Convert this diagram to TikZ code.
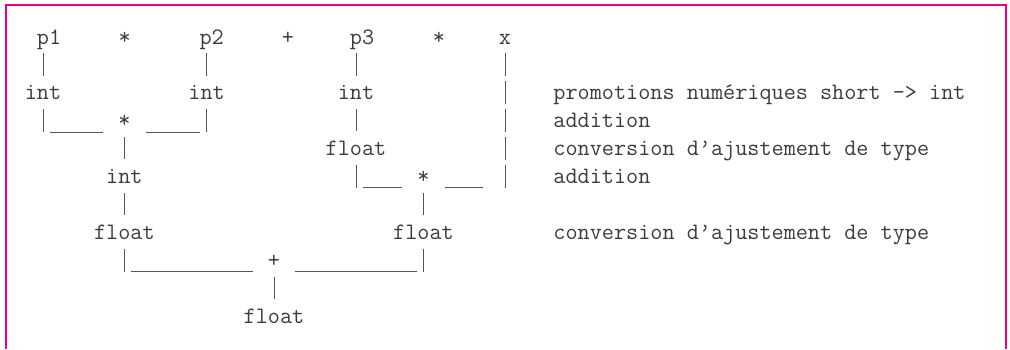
\documentclass[tikz,border=0pt]{standalone}
\usepackage{fontspec}
\usepackage{tikz}
\usetikzlibrary{calc}
\usepackage{xcolor}
\newfontfamily\asciifont{Latin Modern Mono}
\definecolor{framepink}{HTML}{EC008C}
\definecolor{ink}{HTML}{3C3C3C}
\definecolor{stroke}{HTML}{555555}
\newcommand{\ry}[1]{44+27.9*#1}

\begin{document}
\begin{tikzpicture}
    [x=0.5pt,y=-0.5pt,
    tok/.style={anchor=base,inner sep=0pt,text height=8pt,text depth=2pt,text=ink,
      font=\asciifont\fontsize{11.77pt}{14pt}\selectfont},
    note/.style={tok,anchor=base west},
    stem/.style={draw=stroke,line width=.5pt,dash pattern=on 11.5pt off 2.45pt,shorten <=2.45pt},
    bar/.style={stem,shorten >=3.95pt},
    rule/.style={draw=stroke,line width=.5pt,shorten <=3.5pt,shorten >=7.5pt}]
  \useasboundingbox (0,0) rectangle (1010,349);
  \draw[framepink,line width=1.1pt] (6,349) -- (6,5) -- (1006,5) -- (1006,349);

  % expression
  \node[tok] (p1) at (49,{\ry{0}}) {p1};
  \node[tok] (mulA) at (124.7,{\ry{0}}) {*};
  \node[tok] (p2) at (211.7,{\ry{0}}) {p2};
  \node[tok] (plus) at (288,{\ry{0}}) {+};
  \node[tok] (p3) at (362,{\ry{0}}) {p3};
  \node[tok] (mulB) at (439,{\ry{0}}) {*};
  \node[tok] (xv) at (505,{\ry{0}}) {x};

  % types
  \node[tok] (int1) at (43,{\ry{2}}) {int};
  \node[tok] (int2) at (206.6,{\ry{2}}) {int};
  \node[tok] (int3) at (356,{\ry{2}}) {int};
  \node[tok] (mul1) at (124.4,{\ry{3}}) {*};
  \node[tok] (float3) at (356,{\ry{4}}) {float};
  \node[tok] (int4) at (124.4,{\ry{5}}) {int};
  \node[tok] (mul2) at (423.5,{\ry{5}}) {*};
  \node[tok] (float4) at (124.4,{\ry{7}}) {float};
  \node[tok] (float5) at (423.5,{\ry{7}}) {float};
  \node[tok] (add) at (274,{\ry{8}}) {+};
  \node[tok] (float6) at (274,{\ry{10}}) {float};

  \node[note] (n1) at (553,{\ry{2}}) {promotions numériques short -> int};
  \node[note] (n2) at (553,{\ry{3}}) {addition};
  \node[note] (n3) at (553,{\ry{4}}) {conversion d’ajustement de type};
  \node[note] (n4) at (553,{\ry{5}}) {addition};
  \node[note] (n5) at (553,{\ry{7}}) {conversion d’ajustement de type};

  \coordinate (k1) at (int1 |- mul1.south);
  \coordinate (k2) at (int2 |- mul1.south);
  \coordinate (k3) at (float3 |- mul2.south);
  \coordinate (k4) at (xv |- mul2.south);
  \coordinate (k5) at (float4 |- add.south);
  \coordinate (k6) at (float5 |- add.south);

  \draw[bar] (p1.south -| int1) -- (int1);
  \draw[bar] (p2.south -| int2) -- (int2);
  \draw[bar] (p3.south -| int3) -- (int3);
  \draw[stem] (xv) -- (k4);
  \draw[stem] (int1) -- (k1);
  \draw[stem] (int2) -- (k2);
  \draw[bar] (int3) -- (float3);
  \draw[bar] (mul1) -- (int4);
  \draw[stem] (float3) -- (k3);
  \draw[bar] (int4) -- (float4);
  \draw[bar] (mul2) -- (float5);
  \draw[stem] (float4) -- (k5);
  \draw[stem] (float5) -- (k6);
  \draw[bar] (add) -- (float6);

  \draw[rule] (k1) -- (mul1.south west);
  \draw[rule] (k2) -- (mul1.south east);
  \draw[rule] (k3) -- (mul2.south west);
  \draw[rule,shorten <=11pt] (k4) -- (mul2.south east);
  \draw[rule] (k5) -- (add.south west);
  \draw[rule] (k6) -- (add.south east);
\end{tikzpicture}
\end{document}
